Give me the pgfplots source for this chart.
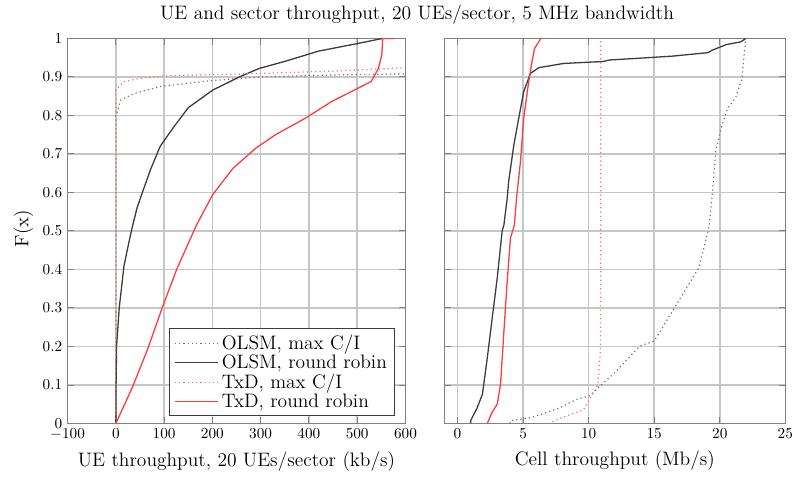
\documentclass[border=0pt]{standalone}
\usepackage{pgfplots}
\pgfplotsset{compat=1.18}
\definecolor{dgray}{RGB}{60,60,60}
\definecolor{lgray}{RGB}{115,115,115}
\definecolor{lred}{RGB}{255,60,60}
\definecolor{pred}{RGB}{255,110,110}
\definecolor{gridc}{RGB}{198,198,198}
\newcommand{\bigf}{\fontsize{12.8}{15}\selectfont}
\tikzset{
  odot/.style={color=lgray, draw=lgray, line width=0.8pt, dash pattern=on 0.8pt off 2pt},
  orr/.style={color=dgray, draw=dgray, line width=0.85pt, solid},
  tdot/.style={color=pred, draw=pred, line width=0.8pt, dash pattern=on 0.8pt off 2pt},
  trr/.style={color=lred, draw=lred, line width=0.85pt, solid},
}
\begin{document}
\begin{tikzpicture}
\pgfplotsset{
  every axis/.append style={
    scale only axis,
    height=253pt,
    ymin=0, ymax=1,
    ytick={0,0.1,...,1},
    grid=major,
    major grid style={line width=1pt, color=gridc},
    axis line style={line width=0.9pt, color=gray},
    tick style={color=gray, line width=0.6pt},
    tick align=inside,
    ticklabel style={font=\normalsize},
    label style={font=\bigf},
  },
}
\path (0,0) rectangle (521pt,310pt);
\node[font=\bigf] at (274pt,300.5pt) {UE and sector throughput, 20 UEs/sector, 5 MHz bandwidth};
\node[rotate=90, font=\bigf] at (15.5pt,160pt) {F(x)};
\begin{axis}[
  at={(44.4pt,32pt)}, anchor=south west,
  width=222pt,
  xmin=-100, xmax=600,
  xtick={-100,0,...,600},
  xlabel={UE throughput, 20 UEs/sector (kb/s)},
  xlabel style={yshift=-1pt},
  yticklabels={0,0.1,0.2,0.3,0.4,0.5,0.6,0.7,0.8,0.9,1},
  legend style={at={(1,0)}, anchor=south east, xshift=-7pt, yshift=5pt, draw=dgray, font=\bigf, cells={anchor=west}, row sep=-2pt, inner xsep=3pt},
  legend cell align=left,
  legend image code/.code={\draw[#1] plot coordinates {(0cm,0cm) (0.5cm,0cm) (1.0cm,0cm)};},
]
\addlegendimage{color=lgray, line width=0.8pt, dash pattern=on 0.8pt off 2pt}
\addlegendentry{OLSM, max C/I}
\addlegendimage{color=dgray, line width=0.85pt}
\addlegendentry{OLSM, round robin}
\addlegendimage{color=pred, line width=0.8pt, dash pattern=on 0.8pt off 2pt}
\addlegendentry{TxD, max C/I}
\addlegendimage{color=lred, line width=0.9pt}
\addlegendentry{TxD, round robin}
\addplot[odot, forget plot] coordinates {(0,0) (0,0.8) (1,0.80) (10,0.84) (38,0.857) (92,0.875) (195,0.89) (297,0.90) (450,0.905) (600,0.908)};
\addplot[orr, forget plot] coordinates {(0,0) (0.5,0.1) (1.5,0.2) (7,0.3) (17,0.41) (27,0.47) (34,0.51) (44,0.56) (55,0.60) (72,0.66) (92,0.72) (120,0.77) (150,0.82) (201,0.866) (256,0.90) (297,0.922) (352,0.941) (420,0.967) (502,0.987) (553,1.0)};
\addplot[tdot, forget plot] coordinates {(0,0) (0,0.866) (17,0.888) (58,0.898) (113,0.903) (297,0.909) (450,0.915) (600,0.924)};
\addplot[trr, forget plot] coordinates {(0,0) (34,0.093) (65,0.19) (96,0.30) (126,0.40) (167,0.515) (201,0.595) (243,0.663) (290,0.715) (331,0.75) (393,0.793) (447,0.836) (488,0.862) (529,0.888) (544,0.922) (551,0.957) (553,1.0) (578,1.0)};
\end{axis}
\begin{axis}[
  at={(292pt,32pt)}, anchor=south west,
  width=224pt,
  xmin=-1, xmax=25,
  xtick={0,5,...,25},
  xlabel={Cell throughput (Mb/s)},
  xlabel style={yshift=-1pt},
  yticklabels={},
]
\addplot[odot] coordinates {(4.0,0) (4.04,0.007) (5.56,0.015) (6.8,0.028) (7.8,0.041) (9.1,0.063) (10.1,0.072) (10.9,0.098) (12.1,0.136) (13.9,0.201) (15.0,0.214) (16.7,0.309) (18.4,0.404) (19.1,0.499) (19.2,0.516) (19.4,0.585) (19.7,0.706) (20.1,0.767) (20.6,0.819) (21.2,0.845) (21.7,0.897) (21.9,0.974) (22.0,1.0)};
\addplot[orr] coordinates {(1.0,0) (1.0,0.007) (1.5,0.041) (1.9,0.076) (2.27,0.17) (2.65,0.275) (3.03,0.378) (3.4,0.499) (3.54,0.516) (3.79,0.585) (3.9,0.629) (4.3,0.724) (4.67,0.793) (5.05,0.862) (5.56,0.909) (6.2,0.924) (8.1,0.935) (11.1,0.940) (11.6,0.944) (13.6,0.948) (16.4,0.954) (19.1,0.963) (19.4,0.969) (20.5,0.984) (21.6,0.991) (21.9,0.998) (22.0,1.0)};
\addplot[tdot] coordinates {(6.94,0) (8.1,0.017) (9.6,0.035) (10.2,0.07) (10.7,0.1) (10.9,0.188) (10.93,0.5) (10.93,1.0)};
\addplot[trr] coordinates {(2.27,0) (2.65,0.03) (3.03,0.05) (3.28,0.102) (3.54,0.24) (3.79,0.37) (4.04,0.482) (4.34,0.516) (4.5,0.585) (4.8,0.68) (5.05,0.793) (5.43,0.888) (5.68,0.94) (5.88,0.974) (6.36,1.0)};
\end{axis}
\end{tikzpicture}
\end{document}
